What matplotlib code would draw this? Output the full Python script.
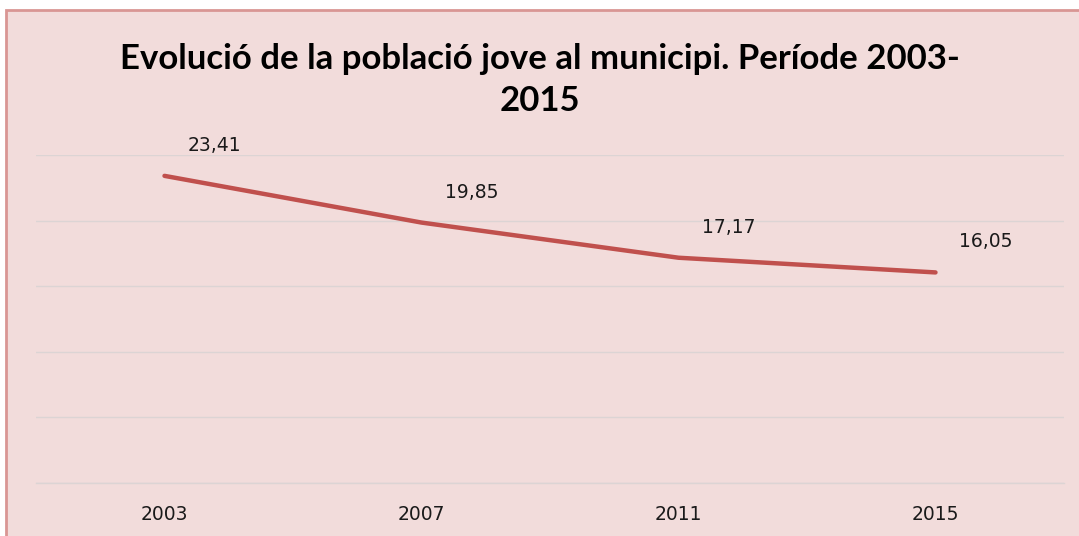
import matplotlib.pyplot as plt
from matplotlib.patches import Rectangle

# data
years = ['2003', '2007', '2011', '2015']
values = [23.41, 19.85, 17.17, 16.05]
labels = ['23,41', '19,85', '17,17', '16,05']

W, H = 1079, 536
fig = plt.figure(figsize=(W / 100, H / 100), dpi=100)
fig.patch.set_facecolor('white')

# chart area with pink fill and red border, on a background axes
bg = fig.add_axes([0, 0, 1, 1], zorder=-1)
bg.set_xlim(0, W)
bg.set_ylim(H, 0)
bg.axis('off')
bg.add_patch(Rectangle((6, 10), W, H, facecolor='#f2dcdb',
                       edgecolor='#d99694', linewidth=2))

ax = fig.add_axes([36 / W, (H - 483) / H, (1064 - 36) / W, (483 - 155) / H])
ax.set_facecolor('none')

x = list(range(len(years)))
ax.plot(x, values, color='#c0504d', linewidth=3.2, solid_capstyle='round', zorder=3)

for xi, v, lab in zip(x, values, labels):
    ax.annotate(lab, (xi, v), xytext=(36, 22), textcoords='offset points',
                ha='center', va='center', fontsize=13.5, family='DejaVu Sans',
                color='#1a1a1a')

ax.set_xlim(-0.5, 3.5)
ax.set_ylim(0, 25)
ax.set_yticks([0, 5, 10, 15, 20, 25])
ax.set_yticklabels([])
ax.set_xticks(x)
ax.set_xticklabels(years, fontsize=13.5, color='#1a1a1a')
ax.tick_params(axis='both', length=0)
ax.tick_params(axis='x', pad=16)
ax.grid(axis='y', color='#dcd4d4', linewidth=1)
ax.set_axisbelow(True)
for name, s in ax.spines.items():
    s.set_visible(name == 'bottom')
ax.spines['bottom'].set_color('#dcd4d4')
ax.spines['bottom'].set_linewidth(1)

fig.text(0.5, (H - 80) / H, 'Evolució de la població jove al municipi. Període 2003-\n2015',
         ha='center', va='center', fontsize=25, fontweight='bold',
         family='Lato', linespacing=1.4)

fig.savefig('out.png', dpi=100)
